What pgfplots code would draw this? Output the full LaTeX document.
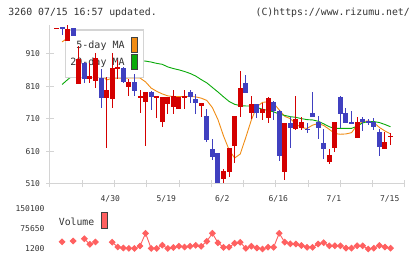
\documentclass[border=0pt]{standalone}
\usepackage{pgfplots}
\pgfplotsset{compat=1.18}
\usepackage{pgfplotstable}
\usepackage{fontspec}
\newfontfamily\monof{DejaVu Sans Mono}

\definecolor{upred}{RGB}{212,0,0}
\definecolor{downblue}{RGB}{64,64,192}
\definecolor{maorange}{RGB}{240,140,20}
\definecolor{magreen}{RGB}{10,170,10}
\definecolor{volred}{RGB}{255,96,96}
\definecolor{axgray}{RGB}{212,212,212}
\definecolor{txt}{RGB}{51,51,51}
\definecolor{swborder}{RGB}{64,64,64}

% daily candles: index, open, close, high, low
\pgfplotstableread{
i o c h l
0 987 990 990 987
2 951 987 998 951
4 817 894 935 817
6 833 842 883 820
7 828 899 914 805
9 773 799 840 622
10 772 868 912 745
11 864 870 892 832
13 809 825 832 781
15 773 781 799 728
16 763 794 794 628
18 777 780 780 712
19 700 778 779 686
20 755 778 779 724
21 748 780 799 724
22 740 778 778 740
23 775 781 799 740
26 750 760 760 717
30 526 551 556 514
31 548 622 622 532
32 628 719 719 576
33 748 805 856 717
35 729 756 781 709
37 728 740 758 707
38 712 775 779 698
41 548 699 699 522
43 679 710 781 676
44 683 700 715 676
49 579 599 618 572
50 620 700 700 609
54 653 701 716 652
59 619 639 669 619
60 656 659 666 630
}\upcandles

\pgfplotstableread{
i o c h l
1 992 986 992 968
3 991 966 991 966
5 883 833 885 820
8 835 773 865 745
12 868 823 871 822
14 825 797 848 781
17 794 779 797 738
24 794 779 799 758
25 772 758 787 724
27 719 645 740 640
28 618 594 648 584
29 606 514 606 514
34 821 791 845 790
36 756 729 756 712
39 762 733 766 707
40 735 597 737 582
42 699 681 717 620
45 680 677 697 668
46 729 717 793 717
47 700 683 719 649
48 636 619 679 588
51 777 725 781 681
52 729 699 744 699
53 701 693 736 693
55 711 702 717 674
56 704 697 710 692
57 701 686 713 676
58 671 625 678 597
}\downcandles

% moving averages
\pgfplotstableread{
i ma5 ma20
1 947 816
2 959 831
3 965 845
4 962 858
5 935 867
6 904 875
7 886 881
8 848 885
9 830 888
10 835 890
11 836 891
12 835 891
13 836 891
14 836 890
15 836 889
16 824 888
17 805 885
18 795 881
19 787 878
20 781 870
21 779 865
22 779 861
23 779 856
24 779 850
25 778 842
26 774 831
27 767 821
28 745 807
29 708 793
30 658 778
31 615 764
32 590 755
33 602 751
34 653 750
35 707 750
36 748 745
37 761 740
38 763 736
39 758 732
40 738 725
41 718 721
42 711 717
43 695 715
44 683 711
45 681 708
46 691 707
47 696 703
48 690 695
49 678 686
50 665 681
51 663 681
52 664 681
53 668 681
54 691 688
55 702 698
56 704 702
57 699 702
58 684 699
59 673 693
60 664 686
}\matab

% volume (nan = not shown)
\pgfplotstableread{
i v
0 nan
1 28000
2 nan
3 31000
4 nan
5 39200
6 18700
7 27300
8 nan
9 nan
10 26500
11 8600
12 4900
13 3400
14 3400
15 12400
16 59600
17 3400
18 3100
19 15300
20 3400
21 6800
22 11600
23 8600
24 11600
25 15000
26 11300
27 29900
28 59600
29 24300
30 7500
31 7900
32 22400
33 26100
34 3800
35 11600
36 4900
37 1200
38 7900
39 7500
40 59600
41 26500
42 20600
43 19800
44 14200
45 7500
46 7500
47 19800
48 24600
49 13100
50 13100
51 13100
52 4500
53 4500
54 13100
55 13100
56 1200
57 4200
58 14200
59 8600
60 4200
}\voltab

\pgfplotsset{
  pricebase/.style={scale only axis, width=355pt, height=159pt,
    xmin=-1.168, xmax=62.6, ymin=510, ymax=999},
  wick/.style={draw=none, mark=none, forget plot,
    error bars/.cd, y dir=both, y explicit, error mark=none,
    error bar style={line width=1pt, draw=#1}},
  body/.style={draw=none, mark=none, forget plot,
    error bars/.cd, y dir=both, y explicit, error mark=none,
    error bar style={line width=5pt, draw=#1}},
}

\begin{document}
\begin{tikzpicture}[font=\monof, text=txt]

% header
\node[anchor=base west, inner sep=0pt, font=\monof\fontsize{9.85}{11}\selectfont] at (8.3pt,243.7pt) {3260 07/15 16:57 updated.};
\node[anchor=base east, inner sep=0pt, font=\monof\fontsize{9.85}{11}\selectfont] at (410pt,243.7pt) {(C)https://www.rizumu.net/};

% moving averages
\begin{axis}[pricebase, at={(50pt,75pt)}, anchor=south west, hide axis]
  \addplot[maorange, line width=0.9pt, mark=none] table[x=i, y=ma5] {\matab};
  \addplot[magreen, line width=0.9pt, mark=none] table[x=i, y=ma20] {\matab};
\end{axis}

% legend box for the averages
\draw[axgray, line width=1.2pt, fill=white] (65.5pt,181.7pt) rectangle (143.5pt,229pt);
\node[anchor=base east, inner sep=0pt, font=\monof\fontsize{10}{12}\selectfont] at (124.8pt,210pt) {5-day MA};
\node[anchor=base east, inner sep=0pt, font=\monof\fontsize{10}{12}\selectfont] at (124.8pt,193.4pt) {20-day MA};
\draw[swborder, line width=1pt, fill=maorange] (131pt,206.7pt) rectangle (137.3pt,221.7pt);
\draw[swborder, line width=1pt, fill=magreen] (131pt,189.7pt) rectangle (137.3pt,204.7pt);

% candles
\begin{axis}[pricebase, at={(50pt,75pt)}, anchor=south west,
  axis x line=bottom, axis y line=left,
  axis line style={draw=axgray, line width=1pt, -},
  tick style={draw=axgray, line width=1pt},
  tick align=center, major tick length=7pt,
  ytick={510,610,710,810,910}, yticklabels={510,610,710,810,910},
  xtick={-1.168,4.629,10.426,16.223,22.02,27.817,33.614,39.411,45.208,51.005,56.802,62.599},
  xticklabels={},
  extra x ticks={9.66,19.72,29.78,39.84,49.84,59.85},
  extra x tick labels={4/30,5/19,6/2,6/16,7/1,7/15},
  extra x tick style={major tick length=0pt},
  ticklabel style={font=\monof\fontsize{8}{9}\selectfont, text=txt},
  yticklabel style={anchor=east, xshift=-3pt},
  xticklabel style={anchor=north, yshift=-8pt},
]
  \addplot[wick=upred] table[x=i, y expr={(\thisrow{h}+\thisrow{l})/2}, y error expr={(\thisrow{h}-\thisrow{l})/2}] {\upcandles};
  \addplot[body=upred] table[x=i, y expr={(\thisrow{o}+\thisrow{c})/2}, y error expr={abs(\thisrow{c}-\thisrow{o})/2}] {\upcandles};
  \addplot[wick=downblue] table[x=i, y expr={(\thisrow{h}+\thisrow{l})/2}, y error expr={(\thisrow{h}-\thisrow{l})/2}] {\downcandles};
  \addplot[body=downblue] table[x=i, y expr={(\thisrow{o}+\thisrow{c})/2}, y error expr={abs(\thisrow{c}-\thisrow{o})/2}] {\downcandles};
\end{axis}

% volume
\begin{axis}[scale only axis, width=355pt, height=40pt, at={(50pt,10pt)}, anchor=south west,
  xmin=-1.168, xmax=62.6, ymin=1200, ymax=150100,
  axis lines=left, axis line style={draw=none},
  xtick=\empty, ytick={1200,75650,150100}, yticklabels={1200,75650,150100},
  major tick length=0pt, tick style={draw=none},
  scaled y ticks=false, clip=false, unbounded coords=jump,
  ticklabel style={font=\monof\fontsize{8}{9}\selectfont, text=txt},
  yticklabel style={anchor=east, xshift=-2pt},
]
  \addplot[volred, line width=0.9pt, mark=square*, mark size=2pt,
    mark options={rotate=45, fill=volred, draw=volred}] table[x=i, y=v] {\voltab};
\end{axis}

% volume legend
\node[anchor=base west, inner sep=0pt, font=\monof\fontsize{9.8}{11}\selectfont] at (58.7pt,33.4pt) {Volume};
\draw[swborder, line width=1pt, fill=volred] (101.3pt,30pt) rectangle (107.3pt,46pt);

\pgfresetboundingbox
\path[use as bounding box] (0pt,0pt) rectangle (420pt,259pt);
\end{tikzpicture}
\end{document}
